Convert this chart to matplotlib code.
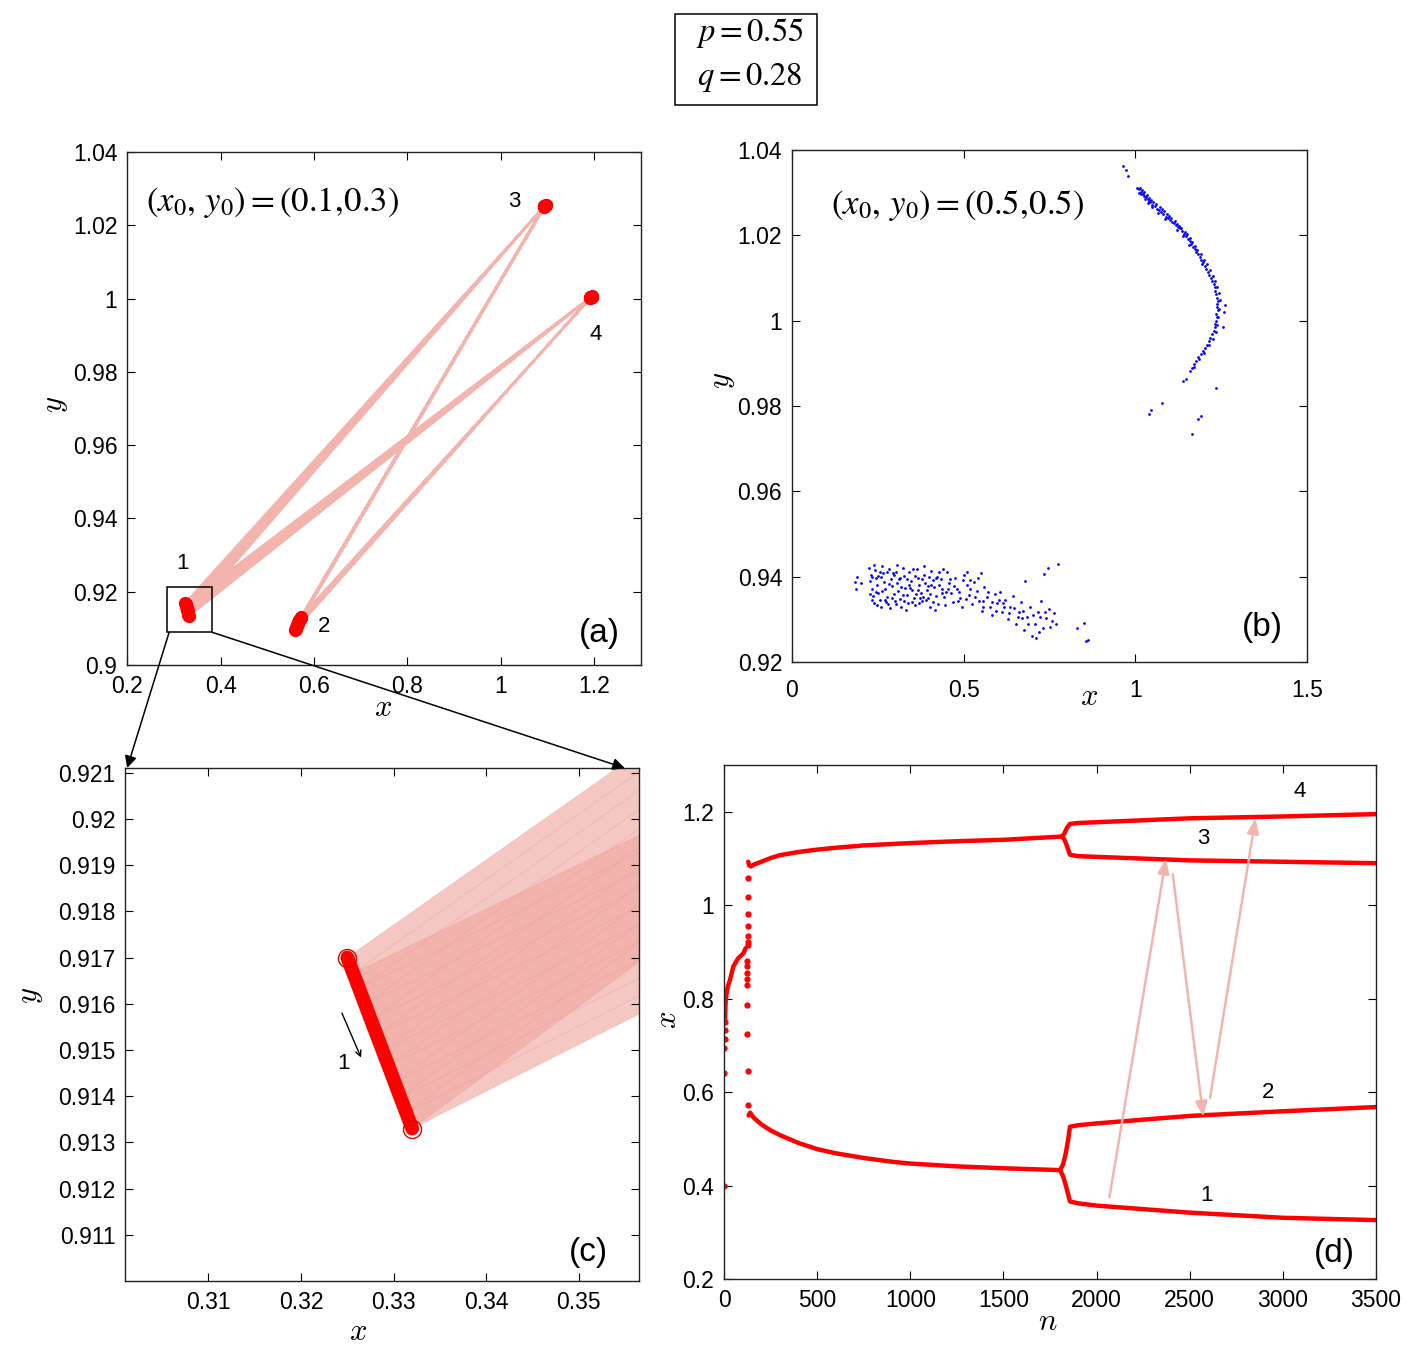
import matplotlib
matplotlib.use("Agg")
import matplotlib.pyplot as plt
from matplotlib.patches import Rectangle, ConnectionPatch
from matplotlib.ticker import FormatStrFormatter

plt.rcParams['font.family'] = ['Liberation Sans', 'DejaVu Sans']
plt.rcParams['mathtext.fontset'] = 'cm'

# ---- panel (a)/(c): one point per visit of each cluster, cycle 1 -> 3 -> 2 -> 4
x1 = [0.32500, 0.32564, 0.32627, 0.32691, 0.32755, 0.32818, 0.32882, 0.32945, 0.33009, 0.33073, 0.33136, 0.33200]
y1 = [0.91700, 0.91666, 0.91633, 0.91599, 0.91565, 0.91532, 0.91498, 0.91465, 0.91431, 0.91397, 0.91364, 0.91330]
x3 = [1.0958, 1.0955, 1.0951, 1.0948, 1.0944, 1.0941, 1.0937, 1.0934, 1.0930, 1.0926, 1.0923, 1.0920]
y3 = [1.0255, 1.0255, 1.0254, 1.0254, 1.0254, 1.0253, 1.0253, 1.0253, 1.0252, 1.0252, 1.0252, 1.0251]
x2 = [0.5600, 0.5611, 0.5622, 0.5634, 0.5645, 0.5656, 0.5668, 0.5679, 0.5690, 0.5702, 0.5713, 0.5725]
y2 = [0.9096, 0.9099, 0.9103, 0.9106, 0.9109, 0.9112, 0.9116, 0.9119, 0.9122, 0.9125, 0.9129, 0.9132]
x4 = [1.1905, 1.1909, 1.1914, 1.1918, 1.1923, 1.1927, 1.1932, 1.1936, 1.1941, 1.1945, 1.1950, 1.1954]
y4 = [1.0002, 1.0002, 1.0003, 1.0003, 1.0003, 1.0004, 1.0004, 1.0004, 1.0005, 1.0005, 1.0005, 1.0006]

# ---- panel (b): attractor points for (x0,y0)=(0.5,0.5)
arc_x = [0.965, 0.972, 0.978, 1.005, 1.012, 1.018, 1.010, 1.022, 1.026, 1.016, 1.031, 1.028, 1.036, 1.040,
         1.044, 1.038, 1.050, 1.056, 1.048, 1.062, 1.068, 1.074, 1.066, 1.080, 1.088, 1.094, 1.086, 1.100,
         1.106, 1.112, 1.118, 1.124, 1.130, 1.122, 1.136, 1.142, 1.148, 1.140, 1.153, 1.158, 1.162, 1.156,
         1.168, 1.173, 1.178, 1.184, 1.188, 1.192, 1.198, 1.194, 1.203, 1.207, 1.212, 1.216, 1.221, 1.224,
         1.228, 1.231, 1.233, 1.236, 1.238, 1.241, 1.237, 1.239, 1.240, 1.236, 1.238, 1.236, 1.233, 1.231,
         1.228, 1.224, 1.219, 1.214, 1.208, 1.203, 1.197, 1.190, 1.184, 1.178, 1.172, 1.166, 1.160,
         1.140, 1.147, 1.235, 1.079, 1.045, 1.040, 1.190, 1.184, 1.164, 1.262, 1.256, 1.258]
arc_y = [1.0362, 1.0352, 1.0340, 1.0312, 1.0308, 1.0302, 1.0300, 1.0296, 1.0293, 1.0297, 1.0289, 1.0284,
         1.0285, 1.0280, 1.0277, 1.0275, 1.0272, 1.0268, 1.0266, 1.0262, 1.0259, 1.0254, 1.0252, 1.0250,
         1.0244, 1.0241, 1.0238, 1.0236, 1.0231, 1.0228, 1.0224, 1.0219, 1.0216, 1.0213, 1.0210, 1.0204,
         1.0199, 1.0198, 1.0192, 1.0186, 1.0180, 1.0178, 1.0173, 1.0167, 1.0161, 1.0156, 1.0149, 1.0142,
         1.0137, 1.0132, 1.0128, 1.0120, 1.0113, 1.0106, 1.0100, 1.0093, 1.0086, 1.0078, 1.0070, 1.0062,
         1.0053, 1.0046, 1.0040, 1.0032, 1.0024, 1.0016, 1.0008, 1.0000, 0.9992, 0.9984, 0.9976, 0.9968,
         0.9960, 0.9952, 0.9944, 0.9937, 0.9930, 0.9922, 0.9914, 0.9906, 0.9898, 0.9890, 0.9882,
         0.9858, 0.9864, 0.9843, 0.9807, 0.9790, 0.9782, 0.9776, 0.9770, 0.9734, 1.0036, 0.9985, 1.0020]
arc_extra = [(1.014, 1.0312), (1.020, 1.0306), (1.025, 1.0301), (1.033, 1.0294), (1.041, 1.0288),
             (1.047, 1.0283), (1.053, 1.0279), (1.059, 1.0274), (1.071, 1.0266), (1.077, 1.0262),
             (1.083, 1.0256), (1.091, 1.0250), (1.097, 1.0245), (1.103, 1.0240), (1.115, 1.0233),
             (1.121, 1.0226), (1.127, 1.0222), (1.133, 1.0217), (1.145, 1.0208), (1.151, 1.0202),
             (1.160, 1.0193), (1.166, 1.0184), (1.175, 1.0175), (1.181, 1.0166), (1.190, 1.0156),
             (1.200, 1.0142), (1.209, 1.0132), (1.218, 1.0118), (1.226, 1.0104), (1.232, 1.0092),
             (1.238, 1.0080), (1.243, 1.0064), (1.246, 1.0048), (1.244, 1.0028), (1.242, 1.0008),
             (1.238, 0.9990), (1.234, 0.9974), (1.226, 0.9958), (1.216, 0.9942), (1.200, 0.9925),
             (1.186, 0.9910), (1.170, 0.9892)]
cloud_x = [0.185, 0.188, 0.186, 0.200,
           0.225, 0.230, 0.228, 0.233, 0.236, 0.240, 0.242, 0.246, 0.249, 0.252, 0.255, 0.258, 0.262,
           0.265, 0.268, 0.272, 0.276, 0.280, 0.284, 0.288, 0.292, 0.296, 0.299,
           0.303, 0.306, 0.310, 0.314, 0.318, 0.322, 0.326, 0.330, 0.334, 0.338, 0.342, 0.346, 0.350,
           0.355, 0.359, 0.363, 0.367, 0.371, 0.375, 0.380, 0.384, 0.388, 0.392, 0.397, 0.401, 0.405,
           0.410, 0.415, 0.420, 0.424, 0.428, 0.433, 0.438, 0.442, 0.447,
           0.452, 0.458, 0.464, 0.470, 0.476, 0.482, 0.489, 0.495, 0.502, 0.509, 0.516, 0.523, 0.530,
           0.538, 0.546, 0.553, 0.560, 0.568, 0.576, 0.584, 0.592, 0.598,
           0.606, 0.612, 0.620, 0.628, 0.636, 0.644, 0.652, 0.660, 0.668, 0.676, 0.684, 0.692, 0.700,
           0.708, 0.716, 0.724, 0.732, 0.740, 0.748, 0.756, 0.764, 0.770, 0.710,
           0.680, 0.735, 0.745, 0.775, 0.830, 0.852, 0.855, 0.862, 0.552, 0.510,
           0.232, 0.244, 0.257, 0.270, 0.283, 0.298, 0.312, 0.327, 0.341, 0.357, 0.372, 0.389, 0.404,
           0.419, 0.436, 0.455, 0.487, 0.519, 0.556, 0.615, 0.671, 0.722]
cloud_y = [0.9388, 0.9400, 0.9372, 0.9385,
           0.9420, 0.9405, 0.9390, 0.9372, 0.9355, 0.9338, 0.9415, 0.9398, 0.9380, 0.9362, 0.9345,
           0.9330, 0.9425, 0.9408, 0.9388, 0.9370, 0.9352, 0.9336, 0.9418, 0.9395, 0.9378, 0.9360, 0.9342,
           0.9412, 0.9385, 0.9366, 0.9347, 0.9330, 0.9421, 0.9402, 0.9374, 0.9357, 0.9338, 0.9410,
           0.9390, 0.9368, 0.9350, 0.9333, 0.9418, 0.9396, 0.9380, 0.9361, 0.9342, 0.9405, 0.9386,
           0.9369, 0.9350, 0.9330, 0.9414, 0.9392, 0.9375, 0.9355, 0.9336, 0.9410, 0.9395, 0.9372,
           0.9352, 0.9334,
           0.9412, 0.9385, 0.9362, 0.9340, 0.9398, 0.9372, 0.9350, 0.9330, 0.9405, 0.9380, 0.9358,
           0.9336, 0.9388, 0.9366, 0.9342, 0.9320, 0.9375, 0.9352, 0.9330, 0.9310, 0.9360, 0.9338,
           0.9365, 0.9318, 0.9345, 0.9300, 0.9330, 0.9355, 0.9290, 0.9318, 0.9340, 0.9275, 0.9305,
           0.9328, 0.9262, 0.9290, 0.9318, 0.9342, 0.9280, 0.9302, 0.9325, 0.9295, 0.9315, 0.9290, 0.9256,
           0.9390, 0.9407, 0.9420, 0.9430, 0.9280, 0.9292, 0.9250, 0.9252, 0.9408, 0.9412,
           0.9400, 0.9364, 0.9412, 0.9346, 0.9383, 0.9404, 0.9395, 0.9343, 0.9380, 0.9401, 0.9350,
           0.9345, 0.9380, 0.9397, 0.9362, 0.9370, 0.9363, 0.9392, 0.9328, 0.9338, 0.9302, 0.9305]
cloud_extra = [(0.238, 0.9428), (0.251, 0.9402), (0.263, 0.9367), (0.274, 0.9341), (0.287, 0.9326),
               (0.295, 0.9409), (0.307, 0.9427), (0.316, 0.9396), (0.324, 0.9358), (0.332, 0.9322),
               (0.345, 0.9374), (0.353, 0.9418), (0.361, 0.9359), (0.369, 0.9339), (0.378, 0.9395),
               (0.386, 0.9425), (0.395, 0.9377), (0.403, 0.9360), (0.412, 0.9340), (0.421, 0.9399),
               (0.429, 0.9381), (0.440, 0.9417), (0.449, 0.9365), (0.461, 0.9395), (0.473, 0.9379),
               (0.485, 0.9344), (0.497, 0.9392), (0.506, 0.9348), (0.520, 0.9372), (0.534, 0.9352),
               (0.543, 0.9398), (0.557, 0.9343), (0.571, 0.9364), (0.582, 0.9340), (0.595, 0.9320),
               (0.603, 0.9345), (0.617, 0.9330), (0.631, 0.9315), (0.648, 0.9327), (0.657, 0.9305),
               (0.672, 0.9320), (0.688, 0.9290), (0.703, 0.9310), (0.719, 0.9270), (0.737, 0.9318),
               (0.752, 0.9283), (0.227, 0.9360), (0.234, 0.9346), (0.247, 0.9333), (0.260, 0.9399),
               (0.278, 0.9412), (0.291, 0.9350), (0.302, 0.9336), (0.319, 0.9375), (0.336, 0.9395),
               (0.349, 0.9340), (0.366, 0.9368), (0.383, 0.9352), (0.399, 0.9400), (0.416, 0.9322)]

# ---- panel (d): x_n versus n
d_dot_n = [0, 1, 2, 3, 4, 5, 126, 127, 127, 128, 128, 128, 129, 121, 122, 123, 123, 124, 125, 125, 126, 127]
d_dot_x = [0.400, 0.640, 0.694, 0.713, 0.733, 0.751, 1.058, 1.017, 0.982, 0.955, 0.935, 0.922, 0.915,
           0.880, 0.869, 0.855, 0.842, 0.829, 0.787, 0.725, 0.645, 0.573]
d_early_n = [5, 7, 9, 14, 20, 32, 50, 77, 104, 116]
d_early_x = [0.751, 0.776, 0.797, 0.812, 0.826, 0.840, 0.869, 0.887, 0.897, 0.908]
d_up_n = [130, 135, 145, 160, 200, 250, 300, 400, 500, 600, 750, 1000, 1250, 1500, 1813]
d_up_x = [1.093, 1.085, 1.083, 1.087, 1.093, 1.101, 1.107, 1.114, 1.119, 1.123, 1.128, 1.133, 1.137,
          1.140, 1.147]
d_b4_n = [1813, 1825, 1840, 1857, 1900, 2500, 3000, 3500]
d_b4_x = [1.147, 1.152, 1.165, 1.174, 1.176, 1.186, 1.190, 1.195]
d_b3_n = [1813, 1825, 1840, 1857, 1900, 2500, 3000, 3500]
d_b3_x = [1.147, 1.142, 1.128, 1.108, 1.105, 1.096, 1.093, 1.090]
d_lo_n = [132, 140, 160, 200, 250, 300, 400, 500, 600, 750, 900, 1000, 1250, 1500, 1804]
d_lo_x = [0.550, 0.556, 0.545, 0.531, 0.518, 0.508, 0.491, 0.478, 0.469, 0.459, 0.451, 0.447, 0.441,
          0.437, 0.433]
d_b2_n = [1804, 1820, 1835, 1848, 1857, 1900, 2000, 2500, 3000, 3500]
d_b2_x = [0.433, 0.445, 0.470, 0.500, 0.526, 0.529, 0.533, 0.549, 0.559, 0.568]
d_b1_n = [1804, 1820, 1835, 1848, 1857, 1900, 2000, 2500, 3000, 3500]
d_b1_x = [0.433, 0.420, 0.400, 0.380, 0.366, 0.362, 0.357, 0.342, 0.331, 0.326]
# guide arrows 1 -> 3 -> 2 -> 4 in (d): (n_from, x_from, n_to, x_to)
d_arrows = [(2069, 0.375, 2373, 1.100), (2409, 1.066, 2573, 0.547), (2609, 0.588, 2853, 1.186)]

RED = '#ff0000'
PINK = '#f2b4ad'

fig = plt.figure(figsize=(14.18, 13.56), dpi=100)
ax_a = fig.add_axes([0.0896, 0.5096, 0.3625, 0.3783])
ax_b = fig.add_axes([0.5585, 0.5118, 0.3632, 0.3776])
ax_c = fig.add_axes([0.0882, 0.0553, 0.3625, 0.3783])
ax_d = fig.add_axes([0.5106, 0.0568, 0.4598, 0.3790])


def style(ax, xt, yt):
    ax.set_xticks(xt)
    ax.set_yticks(yt)
    ax.xaxis.set_major_formatter(FormatStrFormatter('%g'))
    ax.yaxis.set_major_formatter(FormatStrFormatter('%g'))
    ax.tick_params(direction='in', top=True, right=True, length=6, width=0.8,
                   labelsize=16.5, pad=7)
    for s in ax.spines.values():
        s.set_linewidth(1.0)
        s.set_color('#222222')


def labels(ax, xl, yl, xpos, ypos):
    ax.set_xlabel(xl, fontsize=22, va='center')
    ax.set_ylabel(yl, fontsize=22, va='center')
    ax.xaxis.set_label_coords(*xpos)
    ax.yaxis.set_label_coords(*ypos)


# trajectory in visiting order
traj_x, traj_y = [], []
for k in range(len(x1)):
    traj_x += [x1[k], x3[k], x2[k], x4[k]]
    traj_y += [y1[k], y3[k], y2[k], y4[k]]

# ---------------- (a)
ax = ax_a
ax.plot(traj_x, traj_y, '-', color=PINK, lw=1.6, zorder=1)
for cx, cy in [(x1, y1), (x2, y2), (x3, y3), (x4, y4)]:
    ax.plot(cx, cy, 'o', color=RED, ms=8.5, zorder=3)
ax.set_xlim(0.2, 1.3)
ax.set_ylim(0.9, 1.04)
style(ax, [0.2, 0.4, 0.6, 0.8, 1.0, 1.2], [0.9, 0.92, 0.94, 0.96, 0.98, 1.0, 1.02, 1.04])
labels(ax, r'$x$', r'$y$', (0.498, -0.084), (-0.140, 0.507))
ax.text(0.240, 1.0262, r'$(x_0,\, y_0) = (0.1,\! 0.3)$', fontsize=25, va='center', ha='left',
        math_fontfamily='stix')
for t, tx, ty in [('1', 0.318, 0.9278), ('2', 0.622, 0.9104), ('3', 1.029, 1.0264), ('4', 1.202, 0.9903)]:
    ax.text(tx, ty, t, fontsize=16, ha='center', va='center')
ax.text(1.21, 0.9085, '(a)', fontsize=24, ha='center', va='center')
box = [0.285, 0.3827, 0.9089, 0.9212]
ax.add_patch(Rectangle((box[0], box[2]), box[1] - box[0], box[3] - box[2],
                       fill=False, ec='black', lw=1.1, zorder=4))

# ---------------- (b)
ax = ax_b
bx = arc_x + [p[0] for p in arc_extra] + cloud_x + [p[0] for p in cloud_extra]
by = arc_y + [p[1] for p in arc_extra] + cloud_y + [p[1] for p in cloud_extra]
ax.scatter(bx, by, s=4, color='#0000ff', marker='o', linewidths=0)
ax.set_xlim(0, 1.5)
ax.set_ylim(0.92, 1.04)
style(ax, [0, 0.5, 1.0, 1.5], [0.92, 0.94, 0.96, 0.98, 1.0, 1.02, 1.04])
ax.tick_params(axis='x', pad=12)
labels(ax, r'$x$', r'$y$', (0.577, -0.068), (-0.136, 0.55))
ax.text(0.115, 1.0271, r'$(x_0,\, y_0) = (0.5,\! 0.5)$', fontsize=25, va='center', ha='left',
        math_fontfamily='stix')
ax.text(1.369, 0.9282, '(b)', fontsize=24, ha='center', va='center')

# ---------------- (c)
ax = ax_c
n = len(x1)
ax.fill([x1[0], x3[0], x3[-1], x1[-1]], [y1[0], y3[0], y3[-1], y1[-1]],
        color='#f1a9a2', alpha=0.65, lw=0, zorder=1)
ax.fill([x1[1], x4[0], x4[n - 2], x1[-1]], [y1[1], y4[0], y4[n - 2], y1[-1]],
        color='#f1a9a2', alpha=0.65, lw=0, zorder=1)
ax.plot(traj_x, traj_y, '-', color='#e99a92', lw=0.7, alpha=0.35, zorder=2)
ax.plot(x1, y1, '-', color=RED, lw=10, solid_capstyle='round', zorder=3)
ax.plot([x1[0], x1[-1]], [y1[0], y1[-1]], 'o', mfc='none', mec='#e00000', ms=13, mew=1.0, zorder=4)
ax.set_xlim(0.3010, 0.3565)
ax.set_ylim(0.9100, 0.9211)
style(ax, [0.31, 0.32, 0.33, 0.34, 0.35],
      [0.911, 0.912, 0.913, 0.914, 0.915, 0.916, 0.917, 0.918, 0.919, 0.92, 0.921])
labels(ax, r'$x$', r'$y$', (0.453, -0.099), (-0.185, 0.557))
ax.annotate('', xy=(0.3266, 0.91478), xytext=(0.3243, 0.91585),
            arrowprops=dict(arrowstyle='->', color='black', lw=1.0))
ax.text(0.32456, 0.91471, '1', fontsize=16, ha='center', va='center')
ax.text(0.351, 0.91061, '(c)', fontsize=24, ha='center', va='center')

# connectors from the box in (a) to (c)
for xyA, xyB in [((0.290, box[2]), (0.004, 1.0)), ((box[1], box[2]), (0.972, 1.0))]:
    con = ConnectionPatch(xyA=xyA, coordsA=ax_a.transData, xyB=xyB, coordsB=ax_c.transAxes,
                          arrowstyle='-|>', mutation_scale=18, color='black', lw=1.1)
    fig.add_artist(con)

# ---------------- (d)
ax = ax_d
for nn, xx in [(d_early_n, d_early_x), (d_up_n, d_up_x), (d_b4_n, d_b4_x), (d_b3_n, d_b3_x),
               (d_lo_n, d_lo_x), (d_b2_n, d_b2_x), (d_b1_n, d_b1_x)]:
    ax.plot(nn, xx, '-', color=RED, lw=3.2, solid_capstyle='round', solid_joinstyle='round')
ax.plot(d_dot_n, d_dot_x, 'o', color=RED, ms=3.5, lw=0)
for n0, v0, n1, v1 in d_arrows:
    ax.annotate('', xy=(n1, v1), xytext=(n0, v0),
                arrowprops=dict(arrowstyle='-|>,head_length=0.9,head_width=0.35',
                                color=PINK, lw=1.8, shrinkA=0, shrinkB=0))
ax.set_xlim(0, 3500)
ax.set_ylim(0.2, 1.3)
style(ax, [0, 500, 1000, 1500, 2000, 2500, 3000, 3500], [0.2, 0.4, 0.6, 0.8, 1.0, 1.2])
labels(ax, r'$n$', r'$x$', (0.497, -0.084), (-0.086, 0.504))
for t, tx, ty in [('4', 3092, 1.243), ('3', 2571, 1.143), ('2', 2920, 0.599), ('1', 2590, 0.378)]:
    ax.text(tx, ty, t, fontsize=16, ha='center', va='center')
ax.text(3275, 0.255, '(d)', fontsize=24, ha='center', va='center')

# parameter box on top
fig.add_artist(Rectangle((0.476, 0.9226), 0.1001, 0.0671, transform=fig.transFigure,
                         fill=False, ec='black', lw=1.1))
fig.text(0.529, 0.9757, r'$p = 0.55$', fontsize=23.5, ha='center', va='center', math_fontfamily='stix')
fig.text(0.529, 0.9425, r'$q = 0.28$', fontsize=23.5, ha='center', va='center', math_fontfamily='stix')

fig.savefig('out.png', dpi=100)
